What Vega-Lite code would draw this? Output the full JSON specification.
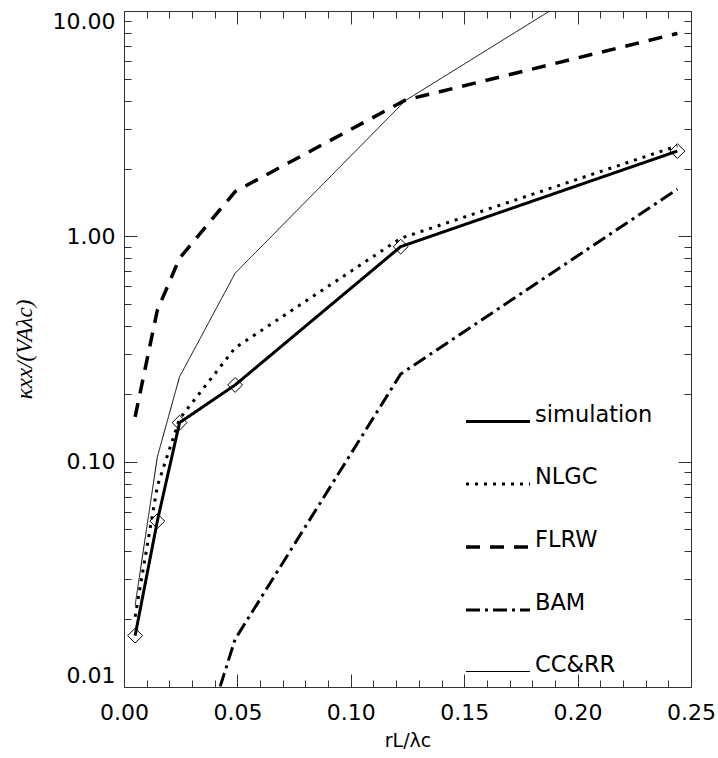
{
  "$schema": "https://vega.github.io/schema/vega-lite/v6.json",
  "width": 567,
  "height": 676,
  "autosize": {"type": "none"},
  "padding": {"left": 124, "top": 11, "right": 27, "bottom": 71},
  "background": "white",
  "config": {
    "view": {"stroke": "#333", "strokeWidth": 1},
    "axis": {"domain": false, "grid": false, "tickColor": "#333", "tickWidth": 1, "labelColor": "black", "titleColor": "black", "labelFont": "DejaVu Sans", "labelFontSize": 22},
    "legend": {"title": null, "orient": "none", "legendX": 340, "legendY": 377, "symbolType": "stroke", "symbolSize": 4096, "symbolStrokeColor": "black", "labelFont": "DejaVu Sans", "labelFontSize": 22.5, "labelBaseline": "alphabetic", "labelOffset": 3, "labelColor": "black", "rowPadding": 22.5, "padding": 0}
  },
  "datasets": {
    "curves": [
      {"model": "simulation", "r": 0.0049, "k": 0.0169},
      {"model": "simulation", "r": 0.0147, "k": 0.0545},
      {"model": "simulation", "r": 0.0245, "k": 0.149},
      {"model": "simulation", "r": 0.049, "k": 0.219},
      {"model": "simulation", "r": 0.122, "k": 0.90},
      {"model": "simulation", "r": 0.244, "k": 2.39},
      {"model": "NLGC", "r": 0.0049, "k": 0.0205},
      {"model": "NLGC", "r": 0.0147, "k": 0.078},
      {"model": "NLGC", "r": 0.0245, "k": 0.155},
      {"model": "NLGC", "r": 0.049, "k": 0.32},
      {"model": "NLGC", "r": 0.122, "k": 0.98},
      {"model": "NLGC", "r": 0.244, "k": 2.52},
      {"model": "FLRW", "r": 0.0049, "k": 0.158},
      {"model": "FLRW", "r": 0.0147, "k": 0.47},
      {"model": "FLRW", "r": 0.0245, "k": 0.80},
      {"model": "FLRW", "r": 0.049, "k": 1.58},
      {"model": "FLRW", "r": 0.124, "k": 4.02},
      {"model": "FLRW", "r": 0.244, "k": 7.95},
      {"model": "BAM", "r": 0.0245, "k": 0.0027},
      {"model": "BAM", "r": 0.049, "k": 0.0163},
      {"model": "BAM", "r": 0.122, "k": 0.245},
      {"model": "BAM", "r": 0.244, "k": 1.62},
      {"model": "CC&RR", "r": 0.0049, "k": 0.023},
      {"model": "CC&RR", "r": 0.0147, "k": 0.105},
      {"model": "CC&RR", "r": 0.0245, "k": 0.238},
      {"model": "CC&RR", "r": 0.049, "k": 0.686},
      {"model": "CC&RR", "r": 0.124, "k": 4.0},
      {"model": "CC&RR", "r": 0.244, "k": 22.5}
    ]
  },
  "data": {"name": "curves"},
  "layer": [
    {
      "transform": [{"filter": {"field": "model", "oneOf": ["simulation", "NLGC", "FLRW"]}}],
      "mark": {"type": "line", "clip": true, "color": "black"},
      "encoding": {
        "x": {"field": "r", "type": "quantitative", "scale": {"domain": [0, 0.25], "nice": false, "zero": false},
          "axis": {"orient": "bottom", "values": [0, 0.05, 0.1, 0.15, 0.2, 0.25], "format": ".2f", "tickSize": -13, "labelPadding": 28, "labelFlush": false, "labelOverlap": false,
            "title": "rL/λc", "titleFont": "DejaVu Sans", "titleFontSize": 19, "titleFontWeight": "normal", "titlePadding": 8}},
        "y": {"field": "k", "type": "quantitative", "scale": {"type": "log", "domain": [0.01, 10], "nice": false},
          "axis": {"orient": "left", "values": [0.01, 0.1, 1, 10], "format": ".2f", "tickSize": -13, "labelPadding": 22, "labelFlush": true, "labelOverlap": false,
            "title": "κxx/(VAλc)", "titleFont": "Liberation Serif", "titleFontStyle": "italic", "titleFontSize": 23, "titleFontWeight": "normal", "titlePadding": 16}},
        "strokeDash": {"field": "model", "type": "nominal",
          "scale": {"domain": ["simulation", "NLGC", "FLRW", "BAM", "CC&RR"], "range": [[1, 0], [3, 6], [14, 10], [14, 5, 3, 5], [1, 0]]}},
        "strokeWidth": {"field": "model", "type": "ordinal",
          "scale": {"type": "ordinal", "domain": ["simulation", "NLGC", "FLRW", "BAM", "CC&RR"], "range": [3, 3, 3.5, 3, 1]}}
      }
    },
    {
      "transform": [{"filter": {"field": "model", "equal": "simulation"}}],
      "mark": {"type": "point", "shape": "diamond", "filled": false, "size": 220, "color": "black", "strokeWidth": 1, "opacity": 1},
      "encoding": {
        "x": {"field": "r", "type": "quantitative",
          "axis": {"orient": "bottom", "values": [0.01, 0.02, 0.03, 0.04, 0.06, 0.07, 0.08, 0.09, 0.11, 0.12, 0.13, 0.14, 0.16, 0.17, 0.18, 0.19, 0.21, 0.22, 0.23, 0.24], "labels": false, "tickSize": -7, "title": null}},
        "y": {"field": "k", "type": "quantitative",
          "axis": {"orient": "left", "values": [0.02, 0.03, 0.04, 0.05, 0.06, 0.07, 0.08, 0.09, 0.2, 0.3, 0.4, 0.5, 0.6, 0.7, 0.8, 0.9, 2, 3, 4, 5, 6, 7, 8, 9], "labels": false, "tickSize": -7, "title": null}}
      }
    },
    {
      "transform": [{"filter": {"field": "model", "equal": "BAM"}}],
      "mark": {"type": "line", "clip": true, "color": "black"},
      "encoding": {
        "x": {"field": "r", "type": "quantitative",
          "axis": {"orient": "top", "values": [0, 0.05, 0.1, 0.15, 0.2, 0.25], "labels": false, "tickSize": -13, "title": null}},
        "y": {"field": "k", "type": "quantitative",
          "axis": {"orient": "right", "values": [0.01, 0.1, 1, 10], "labels": false, "tickSize": -13, "title": null}},
        "strokeDash": {"field": "model", "type": "nominal",
          "scale": {"domain": ["simulation", "NLGC", "FLRW", "BAM", "CC&RR"], "range": [[1, 0], [3, 6], [14, 10], [14, 5, 3, 5], [1, 0]]}},
        "strokeWidth": {"field": "model", "type": "ordinal",
          "scale": {"type": "ordinal", "domain": ["simulation", "NLGC", "FLRW", "BAM", "CC&RR"], "range": [3, 3, 3.5, 3, 1]}}
      }
    },
    {
      "transform": [{"filter": {"field": "model", "equal": "CC&RR"}}],
      "mark": {"type": "line", "clip": true, "color": "black"},
      "encoding": {
        "x": {"field": "r", "type": "quantitative",
          "axis": {"orient": "top", "values": [0.01, 0.02, 0.03, 0.04, 0.06, 0.07, 0.08, 0.09, 0.11, 0.12, 0.13, 0.14, 0.16, 0.17, 0.18, 0.19, 0.21, 0.22, 0.23, 0.24], "labels": false, "tickSize": -7, "title": null}},
        "y": {"field": "k", "type": "quantitative",
          "axis": {"orient": "right", "values": [0.02, 0.03, 0.04, 0.05, 0.06, 0.07, 0.08, 0.09, 0.2, 0.3, 0.4, 0.5, 0.6, 0.7, 0.8, 0.9, 2, 3, 4, 5, 6, 7, 8, 9], "labels": false, "tickSize": -7, "title": null}},
        "strokeDash": {"field": "model", "type": "nominal",
          "scale": {"domain": ["simulation", "NLGC", "FLRW", "BAM", "CC&RR"], "range": [[1, 0], [3, 6], [14, 10], [14, 5, 3, 5], [1, 0]]}},
        "strokeWidth": {"field": "model", "type": "ordinal",
          "scale": {"type": "ordinal", "domain": ["simulation", "NLGC", "FLRW", "BAM", "CC&RR"], "range": [3, 3, 3.5, 3, 1]}}
      }
    }
  ],
  "resolve": {"axis": {"x": "independent", "y": "independent"}}
}
